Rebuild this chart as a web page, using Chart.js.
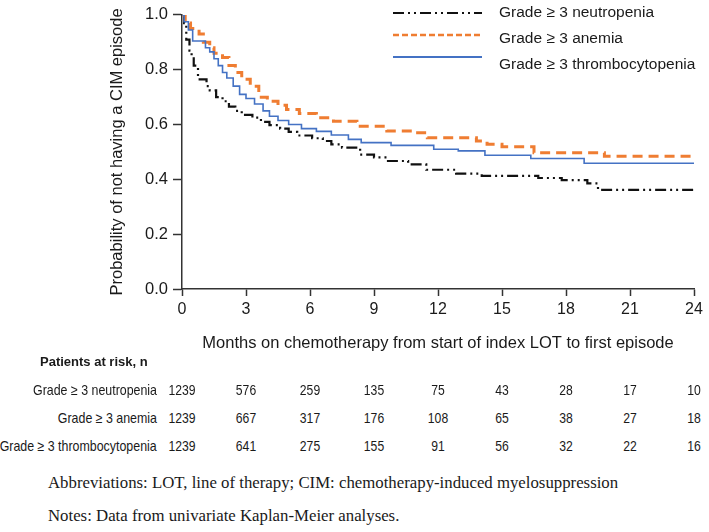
<!DOCTYPE html>
<html>
<head>
<meta charset="utf-8">
<script src="https://cdn.jsdelivr.net/npm/chart.js@4.4.0/dist/chart.umd.min.js"></script>
<style>
body{margin:0;background:#fff;width:709px;height:532px;position:relative;overflow:hidden;font-family:"Liberation Sans",Arial,sans-serif;color:#1a1a1a}
#wrap{position:absolute;left:0;top:0;width:709px;height:355px}
#lgsvg{position:absolute;left:0;top:0}
.lg{position:absolute;left:499px;font-size:15.5px;line-height:18px;white-space:nowrap}
.risk{position:absolute;font-family:"Liberation Sans",Arial,sans-serif;font-size:14.5px;line-height:18px;white-space:nowrap}
.lab{transform:scaleX(0.855);transform-origin:right center}
.num{text-align:center;width:60px;transform:scaleX(0.84);transform-origin:center center}
.note{position:absolute;left:48px;font-family:"Liberation Serif","Times New Roman",serif;font-size:16.8px;line-height:20px;white-space:nowrap}
</style>
</head>
<body>
<div id="wrap"><canvas id="km" width="709" height="355"></canvas></div>
<svg id="lgsvg" width="709" height="80"></svg>
<div id="legend"></div>
<div id="risk"></div>
<div class="note" style="top:473px">Abbreviations: LOT, line of therapy; CIM: chemotherapy-induced myelosuppression</div>
<div class="note" style="top:506px">Notes: Data from univariate Kaplan-Meier analyses.</div>
<script>
// months on x, survival prob on y
const monthTicks = [0, 3, 6, 9, 12, 15, 18, 21, 24];
const seriesNames = ["Grade ≥ 3 neutropenia", "Grade ≥ 3 anemia", "Grade ≥ 3 thrombocytopenia"];

const neutroT = [0, 0.1, 0.2, 0.35, 0.45, 0.55, 0.75, 1.15, 1.3, 1.6, 1.9, 2.2, 2.5, 2.8, 3.3, 3.7, 4.1, 4.6, 5.0, 5.4, 6.1, 6.6, 7.0, 7.5, 8.35, 9.0, 9.6, 10.6, 11.45, 12.85, 14.05, 16.7, 17.8, 19.0, 19.5, 24];
const neutroS = [1.0, 0.97, 0.91, 0.87, 0.85, 0.815, 0.765, 0.74, 0.725, 0.70, 0.685, 0.665, 0.65, 0.635, 0.625, 0.61, 0.598, 0.585, 0.573, 0.56, 0.55, 0.54, 0.528, 0.516, 0.49, 0.48, 0.467, 0.455, 0.435, 0.421, 0.413, 0.405, 0.397, 0.385, 0.362, 0.362];

const anemiaT = [0, 0.15, 0.4, 0.8, 1.0, 1.3, 1.5, 1.9, 2.2, 2.5, 2.8, 3.2, 3.6, 4.0, 4.5, 4.9, 5.5, 6.3, 7.1, 8.2, 9.6, 10.8, 11.5, 13.8, 14.3, 15.0, 16.5, 19.8, 24];
const anemiaS = [1.0, 0.97, 0.95, 0.93, 0.90, 0.88, 0.86, 0.845, 0.815, 0.79, 0.765, 0.74, 0.70, 0.685, 0.67, 0.655, 0.64, 0.625, 0.612, 0.594, 0.576, 0.57, 0.552, 0.54, 0.528, 0.519, 0.497, 0.484, 0.484];

const thromboT = [0, 0.1, 0.3, 0.5, 1.1, 1.3, 1.5, 1.7, 1.9, 2.1, 2.4, 2.7, 3.0, 3.4, 3.8, 4.1, 4.5, 5.0, 5.6, 6.3, 7.0, 7.8, 8.4, 9.8, 11.8, 12.95, 14.2, 16.35, 18.85, 24];
const thromboS = [1.0, 0.975, 0.945, 0.905, 0.88, 0.865, 0.84, 0.815, 0.79, 0.77, 0.74, 0.71, 0.695, 0.675, 0.65, 0.63, 0.615, 0.60, 0.585, 0.575, 0.562, 0.546, 0.534, 0.524, 0.51, 0.504, 0.488, 0.476, 0.459, 0.459];

const riskNeutro = [1239, 576, 259, 135, 75, 43, 28, 17, 10];
const riskAnemia = [1239, 667, 317, 176, 108, 65, 38, 27, 18];
const riskThrombo = [1239, 641, 275, 155, 91, 56, 32, 22, 16];

const colors = ["#111111", "#ef7d32", "#4472c4"];
const dashes = [[11, 4, 2, 4, 2, 4], [10, 6], []];
const widths = [2.2, 3, 1.6];

function pts(t, s){
    let out = [];
    for(let i = 0; i < t.length; i++){
        out.push({x: t[i], y: s[i]});
    }
    return out;
}

const allT = [neutroT, anemiaT, thromboT];
const allS = [neutroS, anemiaS, thromboS];
let datasets = [];
for(let i = 0; i < 3; i++){
    datasets.push({
        label: seriesNames[i],
        data: pts(allT[i], allS[i]),
        borderColor: colors[i],
        borderWidth: widths[i],
        borderDash: dashes[i],
        stepped: 'before',
        pointRadius: 0,
        fill: false
    });
}
// thrombocytopenia drawn first, under the others
datasets.reverse();

const axisColor = "#333";
const chart = new Chart(document.getElementById("km"), {
    type: 'line',
    data: { datasets: datasets },
    options: {
        responsive: false,
        animation: false,
        layout: { padding: { left: 0, right: 15, top: 13, bottom: 0 } },
        plugins: { legend: { display: false }, tooltip: { enabled: false } },
        scales: {
            x: {
                type: 'linear',
                min: 0, max: 24,
                afterFit: function(s){ s.height = 66; },
                ticks: {
                    stepSize: 3,
                    padding: 4,
                    color: "#1a1a1a",
                    font: { family: "Liberation Sans", size: 16 }
                },
                grid: { drawOnChartArea: false, tickLength: 7, color: axisColor, tickWidth: 1.5 },
                border: { color: axisColor, width: 1.5 },
                title: {
                    display: true,
                    text: "Months on chemotherapy from start of index LOT to first episode",
                    color: "#1a1a1a",
                    padding: { top: 0, bottom: 2 },
                    font: { family: "Liberation Sans", size: 16.5 }
                }
            },
            y: {
                min: 0, max: 1,
                afterFit: function(s){ s.width = 182; },
                ticks: {
                    stepSize: 0.2,
                    padding: 5,
                    color: "#1a1a1a",
                    font: { family: "Liberation Sans", size: 16.5 },
                    callback: function(v){ return v.toFixed(1); }
                },
                grid: { drawOnChartArea: false, tickLength: 9, color: axisColor, tickWidth: 1.5 },
                border: { color: axisColor, width: 1.5 },
                title: {
                    display: true,
                    text: "Probability of not having a CIM episode",
                    color: "#1a1a1a",
                    padding: { top: 108, bottom: 0 },
                    font: { family: "Liberation Sans", size: 16.5 }
                }
            }
        }
    }
});

// legend (html text + svg line samples)
const lgLineY = [13, 35, 57];
const lgTextTop = [3, 29, 55];
const lgDash = ["11 4 2 4 2 4", "6 3", ""];
const svg = document.getElementById("lgsvg");
const lg = document.getElementById("legend");
for(let i = 0; i < 3; i++){
    const ln = document.createElementNS("http://www.w3.org/2000/svg", "line");
    ln.setAttribute("x1", 393); ln.setAttribute("x2", 482);
    ln.setAttribute("y1", lgLineY[i]); ln.setAttribute("y2", lgLineY[i]);
    ln.setAttribute("stroke", colors[i]);
    ln.setAttribute("stroke-width", i == 1 ? 2.5 : 2);
    if(lgDash[i]) ln.setAttribute("stroke-dasharray", lgDash[i]);
    svg.appendChild(ln);
    const d = document.createElement("div");
    d.className = "lg";
    d.style.top = lgTextTop[i] + "px";
    d.textContent = seriesNames[i];
    lg.appendChild(d);
}

// patients at risk table, columns placed on the chart's x scale
const riskRows = [riskNeutro, riskAnemia, riskThrombo];
const rowTop = [381, 409, 437];
const box = document.getElementById("risk");
const head = document.createElement("div");
head.className = "risk";
head.style.cssText = "left:40px;top:353px;font-weight:bold;font-size:13px";
head.textContent = "Patients at risk, n";
box.appendChild(head);
const xs = chart.scales.x;
for(let r = 0; r < 3; r++){
    const lab = document.createElement("div");
    lab.className = "risk lab";
    lab.style.right = (709 - 157) + "px";
    lab.style.top = rowTop[r] + "px";
    lab.textContent = seriesNames[r];
    box.appendChild(lab);
    for(let c = 0; c < monthTicks.length; c++){
        const n = document.createElement("div");
        n.className = "risk num";
        n.style.left = (xs.getPixelForValue(monthTicks[c]) - 30) + "px";
        n.style.top = rowTop[r] + "px";
        n.textContent = riskRows[r][c];
        box.appendChild(n);
    }
}
</script>
</body>
</html>
